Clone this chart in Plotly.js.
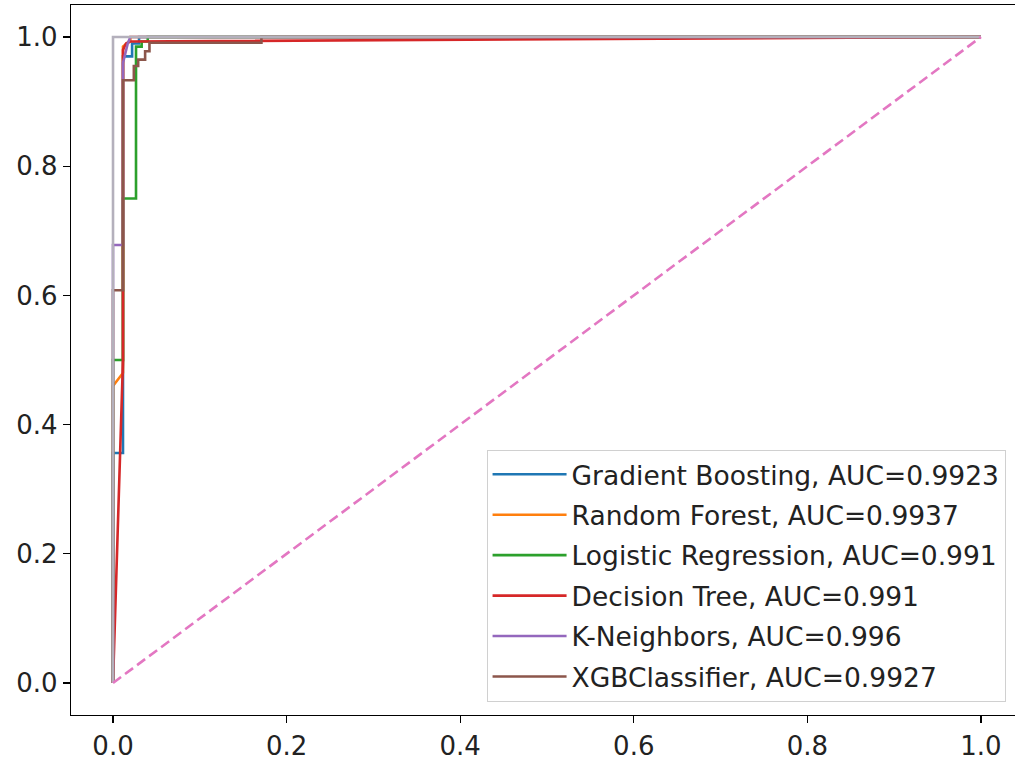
<!DOCTYPE html>
<html>
<head>
<meta charset="utf-8">
<script src="https://cdn.plot.ly/plotly-3.0.1.min.js"></script>
<style>html,body{margin:0;padding:0;background:#fff;}#chart{width:1015px;height:763px;}</style>
</head>
<body>
<div id="chart"></div>
<script>
// Series names and AUC labels
const seriesNames = ["Gradient Boosting, AUC=0.9923", "Random Forest, AUC=0.9937", "Logistic Regression, AUC=0.991",
                     "Decision Tree, AUC=0.991", "K-Neighbors, AUC=0.996", "XGBClassifier, AUC=0.9927"];

// ROC points (false positive rate, true positive rate)
const gbFpr  = [0, 0, 0.0115, 0.0115, 0.022, 0.022, 0.03, 0.03, 1];
const gbTpr  = [0, 0.356, 0.356, 0.97, 0.97, 0.99, 0.99, 1, 1];

const rfFpr  = [0, 0, 0.0115, 0.0115, 0.02, 0.02, 1];
const rfTpr  = [0, 0.46, 0.48, 0.985, 0.995, 1, 1];

const lrFpr  = [0, 0, 0.0115, 0.0115, 0.0265, 0.0265, 0.033, 0.033, 0.04, 0.04, 1];
const lrTpr  = [0, 0.5, 0.5, 0.75, 0.75, 0.985, 0.985, 0.993, 0.993, 1, 1];

const dtFpr  = [0, 0.0115, 0.0115, 0.015, 0.02, 1];
const dtTpr  = [0, 0.5, 0.98, 0.99, 0.993, 1];

const knFpr  = [0, 0, 0.0115, 0.0115, 0.017, 0.02, 1];
const knTpr  = [0, 0.678, 0.678, 0.96, 0.99, 1, 1];

const xgbFpr = [0, 0, 0.0115, 0.0115, 0.024, 0.024, 0.029, 0.029, 0.037, 0.037, 0.042, 0.042, 0.171, 0.171, 1];
const xgbTpr = [0, 0.608, 0.608, 0.933, 0.933, 0.955, 0.955, 0.965, 0.965, 0.978, 0.978, 0.991, 0.991, 1, 1];

// Perfect-classifier reference and chance diagonal
const perfectFpr = [0, 0, 1];
const perfectTpr = [0, 1, 1];
const chanceFpr = [0, 1];
const chanceTpr = [0, 1];

const tickVals = [0, 0.2, 0.4, 0.6, 0.8, 1.0];
const tickText = ["0.0", "0.2", "0.4", "0.6", "0.8", "1.0"];

const colors = ["#1f77b4", "#ff7f0e", "#2ca02c", "#d62728", "#9467bd", "#8c564b"];
const xs = [gbFpr, rfFpr, lrFpr, dtFpr, knFpr, xgbFpr];
const ys = [gbTpr, rfTpr, lrTpr, dtTpr, knTpr, xgbTpr];

const traces = xs.map((x, i) => ({
  x: x, y: ys[i], type: "scatter", mode: "lines", name: seriesNames[i],
  legendgroup: "g" + i,
  line: {color: colors[i], width: 2.6}
}));

traces.push({x: perfectFpr, y: perfectTpr, type: "scatter", mode: "lines", showlegend: false,
  line: {color: "#b4b0bc", width: 2.6}});
traces.push({x: chanceFpr, y: chanceTpr, type: "scatter", mode: "lines", showlegend: false,
  line: {color: "#e377c2", width: 2.6, dash: "10px,5px"}});

const layout = {
  width: 1015, height: 763,
  margin: {l: 71, r: 0, t: 5, b: 48, pad: 0},
  paper_bgcolor: "#fff", plot_bgcolor: "#fff",
  font: {family: "DejaVu Sans, sans-serif", size: 26, color: "#222"},
  showlegend: true,
  xaxis: {
    range: [-0.0484, 1.0392], tickvals: tickVals, ticktext: tickText,
    showgrid: false, zeroline: false, showline: true, mirror: true,
    linecolor: "#000", linewidth: 1.3, ticks: "outside", ticklen: 7, tickwidth: 1.3, tickcolor: "#000",
    tickfont: {size: 26, color: "#222"}
  },
  yaxis: {
    range: [-0.0495, 1.0495], tickvals: tickVals, ticktext: tickText,
    showgrid: false, zeroline: false, showline: true, mirror: false,
    linecolor: "#000", linewidth: 1.3, ticks: "outside", ticklen: 7, tickwidth: 1.3, tickcolor: "#000",
    tickfont: {size: 26, color: "#222"}
  },
  legend: {
    x: 0.99, y: 0.019, xanchor: "right", yanchor: "bottom",
    bgcolor: "rgba(255,255,255,0.85)", bordercolor: "#d0d0d0", borderwidth: 1,
    font: {size: 26.5, color: "#222"}, tracegroupgap: 3, itemwidth: 74
  }
};

Plotly.newPlot("chart", traces, layout, {displayModeBar: false, staticPlot: true});
</script>
</body>
</html>
